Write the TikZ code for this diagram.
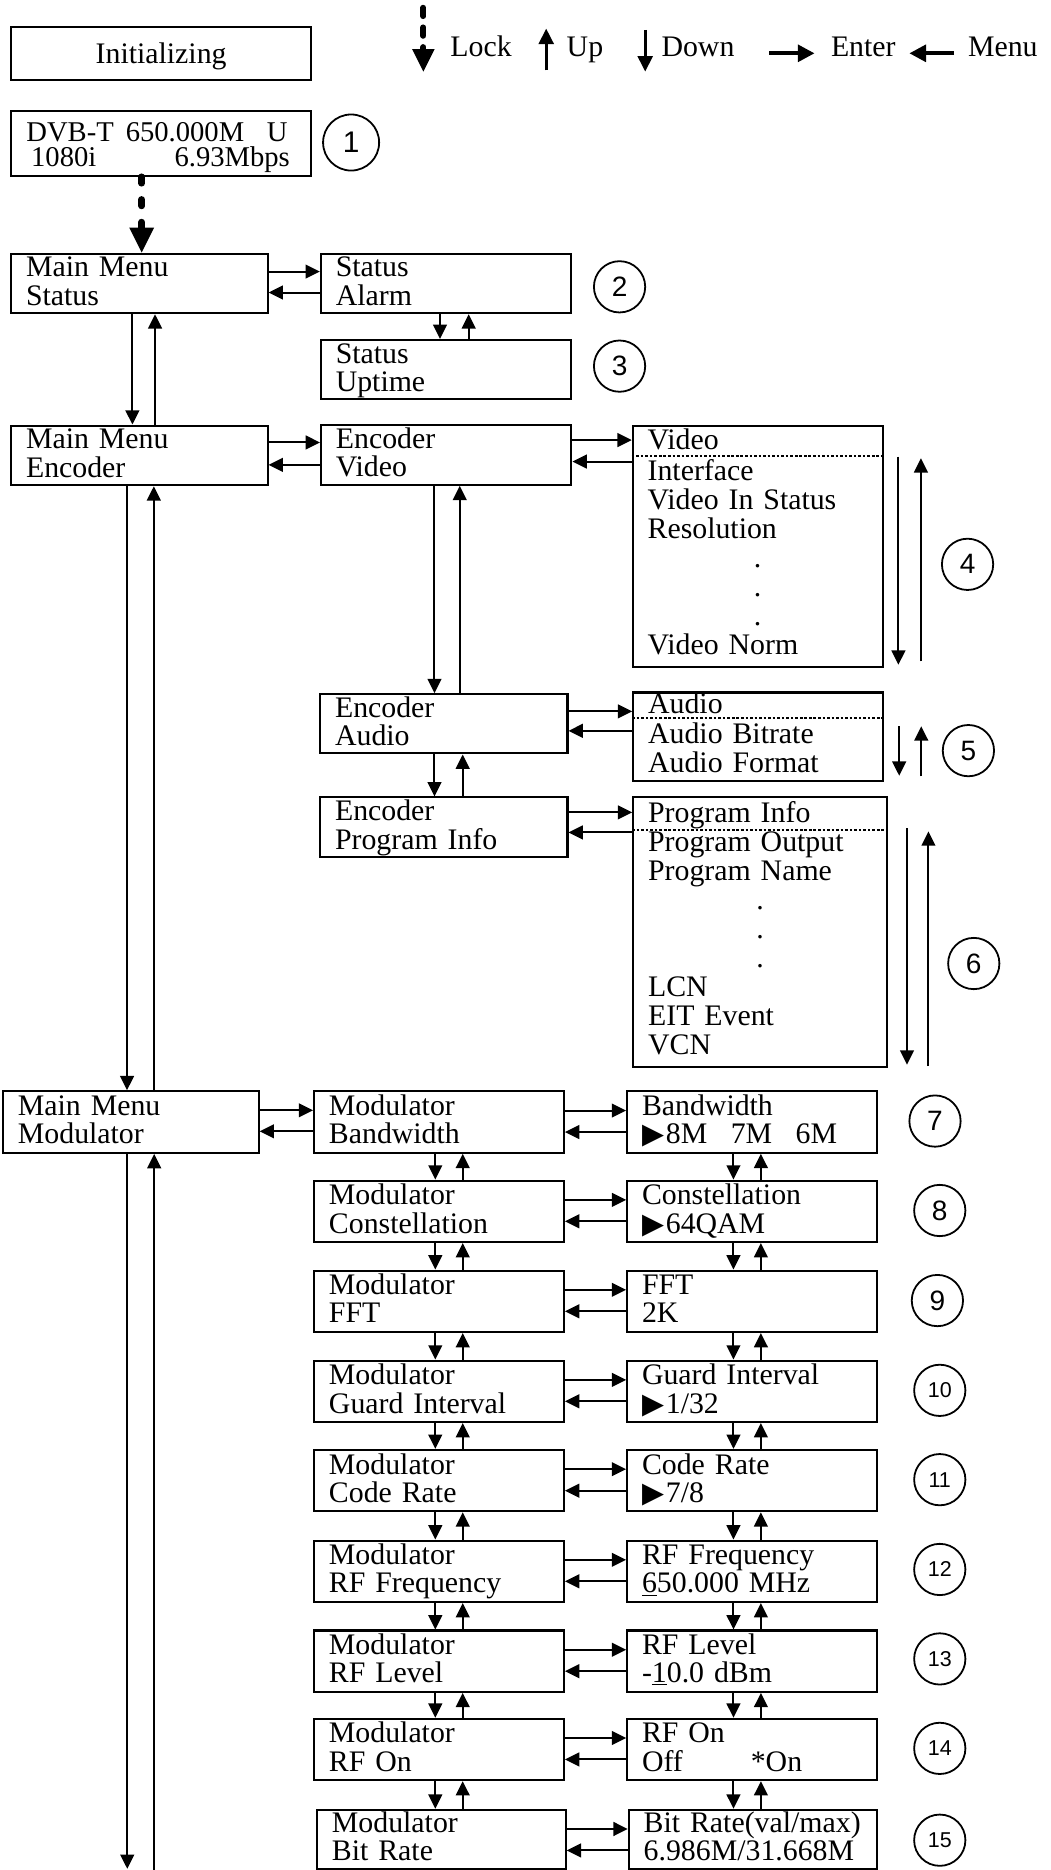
\documentclass[tikz,border=0pt]{standalone}
\usepackage{fontspec}
\setmainfont{Liberation Serif}
\newfontfamily\numfont{Liberation Sans}
\newfontfamily\symfont{DejaVu Sans}
\usetikzlibrary{arrows.meta}
\newcommand\two[2]{\rule{0pt}{19pt}#1\\#2\rule[-6.3pt]{0pt}{6.3pt}}
\newcommand\dotline{\hspace*{\fill}.\hspace*{\fill}\mbox{}}
\newcommand\tri{{\symfont\fontsize{24}{24}\selectfont ▶}\hspace{1.5pt}}
\begin{document}
\begin{tikzpicture}[x=1pt,y=-1pt,
  bx/.style 2 args={draw, line width=1.7pt, anchor=north west, inner xsep=12.5pt, inner ysep=0pt,
    text width=#1, minimum height=#2, align=left, font=\fontsize{25}{23.7}\selectfont},
  lst/.style 2 args={bx={#1}{#2}, font=\fontsize{25}{24.3}\selectfont},
  mbx/.style={bx={184.5pt}{51.5pt}},
  arr/.style={line width=1.7pt, -{Triangle[length=12pt,width=11.5pt]}},
  leg/.style={line width=2.4pt, -{Triangle[length=13pt,width=12.5pt]}},
  legh/.style={line width=3.2pt, -{Triangle[length=14pt,width=14pt]}},
  sep/.style={line width=1.4pt, dash pattern=on 2.2pt off 1.6pt},
  circ/.style={draw, circle, line width=1.5pt, minimum size=43pt, inner sep=0pt, font=\numfont\fontsize{23.5}{23.5}\selectfont},
  circs/.style={circ, font=\numfont\fontsize{18}{18}\selectfont},
  lab/.style={anchor=base west, inner sep=0pt, font=\fontsize{25}{25}\selectfont},
]
\useasboundingbox (0,0) rectangle (881,1568);

% ---------- legend ----------
\node[draw, line width=1.7pt, anchor=north west, minimum width=251.5pt, minimum height=44.5pt, inner sep=0pt,
  text height=16.5pt, text depth=0pt, font=\fontsize{25}{25}\selectfont] (init) at (8.5,22) {Initializing};
\coordinate (lk1) at (355,6.5); \coordinate (lk2) at (355,60.1);
\draw[line width=5pt, line cap=round, dash pattern=on 7pt off 9.5pt,
  -{Triangle[length=19pt,width=19pt,line width=0pt]}] (lk1) -- (lk2);
\node[lab] (tlock) at (377.5,47.5) {Lock};
\coordinate (up1) at (458,59); \coordinate (up2) at (458,24);
\draw[leg] (up1) -- (up2);
\node[lab] (tup) at (475,47.5) {Up};
\coordinate (dn1) at (541,25); \coordinate (dn2) at (541,60);
\draw[leg] (dn1) -- (dn2);
\node[lab] (tdown) at (554.5,47.5) {Down};
\coordinate (en1) at (645,44.7); \coordinate (en2) at (683,44.7);
\draw[legh] (en1) -- (en2);
\node[lab] (tenter) at (696.6,47.5) {Enter};
\coordinate (me1) at (800,44.7); \coordinate (me2) at (762.5,44.7);
\draw[legh] (me1) -- (me2);
\node[lab] (tmenu) at (811.5,47.5) {Menu};

% ---------- status ----------
\node[bx={225.9pt}{54pt}, inner xsep=12.8pt, font=\fontsize{24}{23.7}\selectfont] (dvb) at (8.5,92.5)
  {\rule{0pt}{24.9pt}DVB-T\hspace{10pt}650.000M\hfill U\hspace*{7pt}\mbox{}\\[-2.2pt]\hspace*{4pt}1080i\hfill 6.93Mbps\hspace*{5pt}\mbox{}\rule[-7.6pt]{0pt}{7.6pt}};
\node[circ, minimum size=47pt, font=\numfont\fontsize{25}{25}\selectfont] (c1) at (294.4,119.5) {1};

\node[bx={190pt}{50pt}] (mmst) at (8.5,211.8) {\two{Main Menu}{Status}};
\node[bx={184.8pt}{50pt}] (stal) at (268.2,211.8) {\two{Status}{Alarm}};
\node[bx={184.8pt}{49.7pt}] (stup) at (268.2,284.2) {\two{Status}{Uptime}};
\node[circ] (c2) at (519.5,240.5) {2};
\node[circ] (c3) at (519.5,307) {3};

\draw[line width=5.5pt, line cap=round, dash pattern=on 5.5pt off 13.5pt,
  -{Triangle[length=21pt,width=21pt,line width=0pt]}] (dvb.south -| 118.8,0) -- (118.8,0 |- mmst.north);

\draw[arr] (mmst.east |- 0,227.7) -- (stal.west |- 0,227.7);
\draw[arr] (stal.west |- 0,245.3) -- (mmst.east |- 0,245.3);
\draw[arr] (368.9,0 |- stal.south) -- (368.9,0 |- stup.north);
\draw[arr] (393,0 |- stup.north) -- (393,0 |- stal.south);

% ---------- encoder ----------
\node[bx={190pt}{50pt}] (mmenc) at (8.5,356) {\two{Main Menu}{Encoder}};
\node[bx={185pt}{50.2pt}] (encv) at (268.3,355.5) {\two{Encoder}{Video}};
\node[lst={184.5pt}{202pt}] (vlist) at (529.7,356.2)
  {\strut Video\\Interface\\Video In Status\\Resolution\\\dotline\\\dotline\\\dotline\\Video Norm\strut};
\draw[sep] (vlist.west |- 0,382.2) -- (vlist.east |- 0,382.2);
\node[circ] (c4) at (811.3,473.2) {4};

\draw[arr] (111,0 |- mmst.south) -- (111,0 |- mmenc.north);
\draw[arr] (130,0 |- mmenc.north) -- (130,0 |- mmst.south);
\draw[arr] (mmenc.east |- 0,371) -- (encv.west |- 0,371);
\draw[arr] (encv.west |- 0,389.8) -- (mmenc.east |- 0,389.8);
\draw[arr] (encv.east |- 0,369) -- (vlist.west |- 0,369);
\draw[arr] (vlist.west |- 0,387) -- (encv.east |- 0,387);
\coordinate (vd1) at (753.3,382.8); \coordinate (vd2) at (753.3,557.4);
\coordinate (vu1) at (772.2,554.6); \coordinate (vu2) at (772.2,384.2);
\draw[arr] (vd1) -- (vd2);
\draw[arr] (vu1) -- (vu2);

\node[bx={182.4pt}{49.7pt}] (enca) at (267.6,581.2) {\two{Encoder}{Audio}};
\node[lst={184.5pt}{73.5pt}] (alist) at (530.1,579.8) {\strut Audio\\Audio Bitrate\\Audio Format\strut};
\draw[sep] (alist.west |- 0,602.1) -- (alist.east |- 0,602.1);
\node[circ] (c5) at (812,629.4) {5};
\draw[arr] (364.3,0 |- encv.south) -- (364.3,0 |- enca.north);
\draw[arr] (385.5,0 |- enca.north) -- (385.5,0 |- encv.south);
\draw[arr] (enca.east |- 0,596.5) -- (alist.west |- 0,596.5);
\draw[arr] (alist.west |- 0,612.8) -- (enca.east |- 0,612.8);
\coordinate (ad1) at (754,609); \coordinate (ad2) at (754,650.5);
\coordinate (au1) at (772.5,651); \coordinate (au2) at (772.5,609);
\draw[arr] (ad1) -- (ad2);
\draw[arr] (au1) -- (au2);

\node[bx={182.4pt}{50.3pt}] (encp) at (267.6,667.8) {\two{Encoder}{Program Info}};
\node[lst={187.7pt}{226.3pt}] (plist) at (530.1,667.8)
  {\strut Program Info\\Program Output\\Program Name\\\dotline\\\dotline\\\dotline\\LCN\\EIT Event\\VCN\strut};
\draw[sep] (plist.west |- 0,695.7) -- (plist.east |- 0,695.7);
\node[circ] (c6) at (816.5,807.9) {6};
\draw[arr] (364.3,0 |- enca.south) -- (364.3,0 |- encp.north);
\draw[arr] (388,0 |- encp.north) -- (388,0 |- enca.south);
\draw[arr] (encp.east |- 0,681.2) -- (plist.west |- 0,681.2);
\draw[arr] (plist.west |- 0,698) -- (encp.east |- 0,698);
\coordinate (pd1) at (760.5,694.3); \coordinate (pd2) at (760.5,892.7);
\coordinate (pu1) at (778.5,894); \coordinate (pu2) at (778.5,697.1);
\draw[arr] (pd1) -- (pd2);
\draw[arr] (pu1) -- (pu2);

% ---------- modulator ----------
\node[bx={189.3pt}{51.7pt}] (mmmod) at (1.7,914.2) {\two{Main Menu}{Modulator}};
\draw[arr] (106.5,0 |- mmenc.south) -- (106.5,0 |- mmmod.north);
\draw[arr] (129,0 |- mmmod.north) -- (129,0 |- mmenc.south);
\coordinate (bd) at (106.7,1567); \coordinate (bu) at (129.3,1568);
\draw[arr] (106.7,0 |- mmmod.south) -- (bd);
\draw[arr] (bu) -- (129.3,0 |- mmmod.south);

\node[mbx] (m0) at (262.5,914.2) {\two{Modulator}{Bandwidth}};
\node[mbx] (m1) at (262.5,989.1) {\two{Modulator}{Constellation}};
\node[mbx] (m2) at (262.5,1064.5) {\two{Modulator}{FFT}};
\node[mbx] (m3) at (262.5,1140) {\two{Modulator}{Guard Interval}};
\node[mbx] (m4) at (262.5,1214.9) {\two{Modulator}{Code Rate}};
\node[mbx] (m5) at (262.5,1290.9) {\two{Modulator}{RF Frequency}};
\node[mbx] (m6) at (262.5,1366.3) {\two{Modulator}{RF Level}};
\node[mbx] (m7) at (262.5,1440.3) {\two{Modulator}{RF On}};
\node[bx={183.5pt}{49.4pt}] (m8) at (265,1516.6) {\two{Modulator}{Bit Rate}};

\node[mbx] (v0) at (525,914.2) {\two{Bandwidth}{\tri 8M\hspace{19.7pt}7M\hspace{19.7pt}6M}};
\node[mbx] (v1) at (525,989.1) {\two{Constellation}{\tri 64QAM}};
\node[mbx] (v2) at (525,1064.5) {\two{FFT}{2K}};
\node[mbx] (v3) at (525,1140) {\two{Guard Interval}{\tri 1/32}};
\node[mbx] (v4) at (525,1214.9) {\two{Code Rate}{\tri 7/8}};
\node[mbx] (v5) at (525,1290.9) {\two{RF Frequency}{\underline{6}50.000 MHz}};
\node[mbx] (v6) at (525,1366.3) {\two{RF Level}{-\underline{1}0.0 dBm}};
\node[mbx] (v7) at (525,1440.3) {\two{RF On}{Off\hspace{57pt}*On}};
\node[bx={183.5pt}{49.4pt}] (v8) at (526.4,1516.6) {\two{Bit Rate(val/max)}{6.986M/31.668M}};

\node[circ] (c7) at (784,940) {7};
\node[circ] (c8) at (788,1015) {8};
\node[circ] (c9) at (786,1090.5) {9};
\node[circs] (c10) at (788,1165.8) {10};
\node[circs] (c11) at (788,1240.7) {11};
\node[circs] (c12) at (788,1316) {12};
\node[circs] (c13) at (788,1391) {13};
\node[circs] (c14) at (788,1466) {14};
\node[circs] (c15) at (788,1543) {15};

\draw[arr] (mmmod.east |- 0,931) -- (m0.west |- 0,931);
\draw[arr] (m0.west |- 0,948.6) -- (mmmod.east |- 0,948.6);

\foreach \i/\tp in {0/914.2,1/989.1,2/1064.5,3/1140,4/1214.9,5/1290.9,6/1366.3,7/1440.3,8/1516.6}{
  \draw[arr] (m\i.east |- 0,\tp+17) -- (v\i.west |- 0,\tp+17);
  \draw[arr] (v\i.west |- 0,\tp+35) -- (m\i.east |- 0,\tp+35);
}
\foreach \i [evaluate=\i as \j using int(\i+1)] in {0,...,7}{
  \draw[arr] (365,0 |- m\i.south) -- (365,0 |- m\j.north);
  \draw[arr] (388,0 |- m\j.north) -- (388,0 |- m\i.south);
  \draw[arr] (615,0 |- v\i.south) -- (615,0 |- v\j.north);
  \draw[arr] (638,0 |- v\j.north) -- (638,0 |- v\i.south);
}
\end{tikzpicture}
\end{document}
